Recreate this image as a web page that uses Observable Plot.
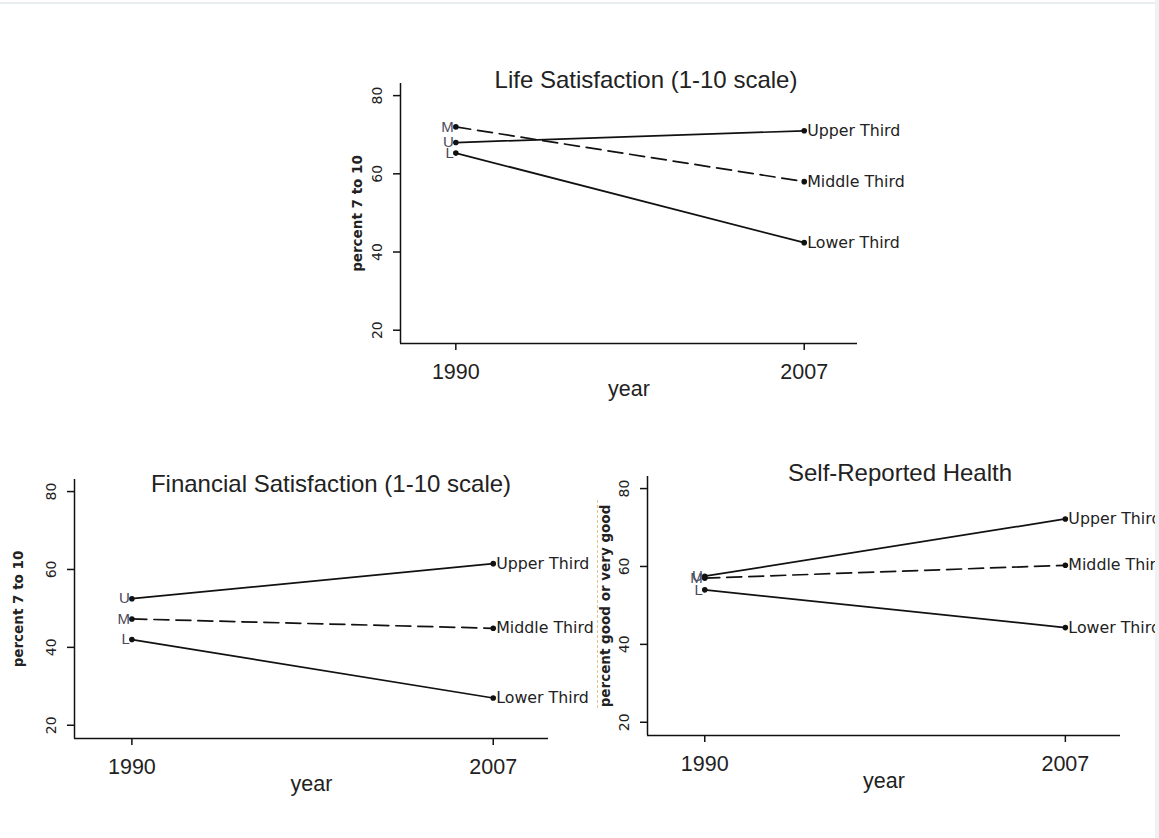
<!DOCTYPE html>
<html>
<head>
<meta charset="utf-8">
<script src="https://cdn.jsdelivr.net/npm/d3@7"></script>
<script src="https://cdn.jsdelivr.net/npm/@observablehq/plot@0.6"></script>
<style>
  body { margin: 0; background: #fff; }
  #page { position: relative; width: 1159px; height: 838px; overflow: hidden; background: #fff;
          font-family: "Liberation Sans", Arial, sans-serif; }
  .box { position: absolute; overflow: hidden; }
  .title { position: absolute; transform: translateX(-50%); white-space: nowrap; font-size: 24px;
           line-height: 1; color: #222; font-family: "Liberation Sans", Arial, sans-serif; }
  .deco { position: absolute; }
</style>
</head>
<body>
<div id="page"></div>
<script>
// ---- data ----
const years = [1990, 2007];
const groups = ["Upper Third", "Middle Third", "Lower Third"];
const initials = ["U", "M", "L"];
const xTicks = [1990, 2007];
const yTicks = [20, 40, 60, 80];

const lifeUpper = [68, 71];
const lifeMiddle = [72, 58];
const lifeLower = [65.3, 42.4];

const finUpper = [52.5, 61.5];
const finMiddle = [47.3, 44.9];
const finLower = [42, 27];

const healthUpper = [57.5, 72.2];
const healthMiddle = [57, 60.3];
const healthLower = [54, 44.3];

const titles = ["Life Satisfaction (1-10 scale)", "Financial Satisfaction (1-10 scale)", "Self-Reported Health"];
const yTitles = ["percent 7 to 10", "percent 7 to 10", "percent good or very good"];
const xTitle = "year";

// scale extents (axis lines run a little beyond the ticks, as in the original)
const xDomain = [1987.3, 2009.6];
const yDomain = [16.6, 83.1];

function rows(series) {
  const out = [];
  series.forEach((vals, i) => {
    vals.forEach((v, j) => out.push({group: groups[i], initial: initials[i], year: years[j], value: v}));
  });
  return out;
}

const page = document.getElementById("page");

function drawPanel(p) {
  const W = p.box.right - p.box.left, H = p.box.bottom - p.box.top;
  const data = rows(p.series);
  const solid = data.filter(d => d.group !== "Middle Third");
  const dashed = data.filter(d => d.group === "Middle Third");
  const chart = Plot.plot({
    width: W,
    height: H,
    marginLeft: p.frame.left - p.box.left,
    marginRight: p.box.right - p.frame.right,
    marginTop: p.frame.top - p.box.top,
    marginBottom: p.box.bottom - p.frame.bottom,
    x: {domain: xDomain, axis: null},
    y: {domain: yDomain, axis: null},
    style: {background: "transparent", color: "#111", fontFamily: "Liberation Sans, Arial, sans-serif", overflow: "visible"},
    marks: [
      Plot.ruleX([xDomain[0]], {stroke: "#111", strokeWidth: 1.5}),
      Plot.ruleY([yDomain[0]], {stroke: "#111", strokeWidth: 1.5}),
      Plot.axisX({ticks: xTicks, tickSize: 7, tickPadding: 13, fontSize: 21.5, tickFormat: d => String(d),
                  label: null, strokeWidth: 1.5, fill: "#222"}),
      Plot.axisY({ticks: yTicks, tickSize: 7, tickFormat: () => "", label: null, strokeWidth: 1.5}),
      Plot.text(yTicks, {frameAnchor: "left", y: d => d, text: d => String(d), rotate: -90, dx: -23,
                         fontSize: 14, fontFamily: "DejaVu Sans", fill: "#222", textAnchor: "middle", lineAnchor: "middle"}),
      Plot.text([p.yTitle], {frameAnchor: "left", rotate: -90, dx: p.yTitleDx, fontSize: 13.5, fontWeight: "bold",
                             fontFamily: "DejaVu Sans", fill: "#222", textAnchor: "middle", lineAnchor: "middle"}),
      Plot.text([xTitle], {frameAnchor: "bottom", dy: 46, fontSize: 21.5, fill: "#222", textAnchor: "middle", lineAnchor: "middle"}),
      Plot.line(solid, {x: "year", y: "value", z: "group", stroke: "#111", strokeWidth: 1.7}),
      Plot.line(dashed, {x: "year", y: "value", z: "group", stroke: "#111", strokeWidth: 1.7, strokeDasharray: "15,7"}),
      Plot.dot(data, {x: "year", y: "value", r: 2.8, fill: "#111", stroke: null}),
      Plot.text(data.filter(d => d.year === years[0]), {x: "year", y: "value", text: "initial", textAnchor: "end",
                  dx: -2, fontSize: 15, fill: "#4a4a5a", lineAnchor: "middle"}),
      Plot.text(data.filter(d => d.year === years[1]), {x: "year", y: "value", text: "group", textAnchor: "start",
                  dx: 3, fontSize: 15.8, fontFamily: "DejaVu Sans", fill: "#222", lineAnchor: "middle"})
    ]
  });
  const box = document.createElement("div");
  box.className = "box";
  box.style.left = p.box.left + "px";
  box.style.top = p.box.top + "px";
  box.style.width = W + "px";
  box.style.height = H + "px";
  box.appendChild(chart);
  page.appendChild(box);

  const t = document.createElement("div");
  t.className = "title";
  t.textContent = p.title;
  t.style.left = p.titleX + "px";
  t.style.top = p.titleTop + "px";
  page.appendChild(t);
}

drawPanel({
  series: [lifeUpper, lifeMiddle, lifeLower],
  title: titles[0], yTitle: yTitles[0], yTitleDx: -43,
  box: {left: 330, top: 60, right: 930, bottom: 410},
  frame: {left: 400, top: 83, right: 857, bottom: 343},
  titleX: 646, titleTop: 68
});
drawPanel({
  series: [finUpper, finMiddle, finLower],
  title: titles[1], yTitle: yTitles[1], yTitleDx: -56,
  box: {left: 0, top: 460, right: 597, bottom: 810},
  frame: {left: 74, top: 479, right: 548, bottom: 738},
  titleX: 331, titleTop: 472
});
drawPanel({
  series: [healthUpper, healthMiddle, healthLower],
  title: titles[2], yTitle: yTitles[2], yTitleDx: -42,
  box: {left: 590, top: 455, right: 1155, bottom: 810},
  frame: {left: 647, top: 476, right: 1120, bottom: 735},
  titleX: 900, titleTop: 461
});

// faint scan edges of the original figure
function deco(style) {
  const d = document.createElement("div");
  d.className = "deco";
  Object.assign(d.style, style);
  page.appendChild(d);
}
deco({left: "0px", top: "2px", width: "1159px", height: "2px", background: "#e8edef"});
deco({left: "1155px", top: "0px", width: "4px", height: "838px", background: "#eef2f4"});
deco({left: "597px", top: "500px", width: "0px", height: "208px", borderLeft: "1px dashed #dcc88e"});
</script>
</body>
</html>
